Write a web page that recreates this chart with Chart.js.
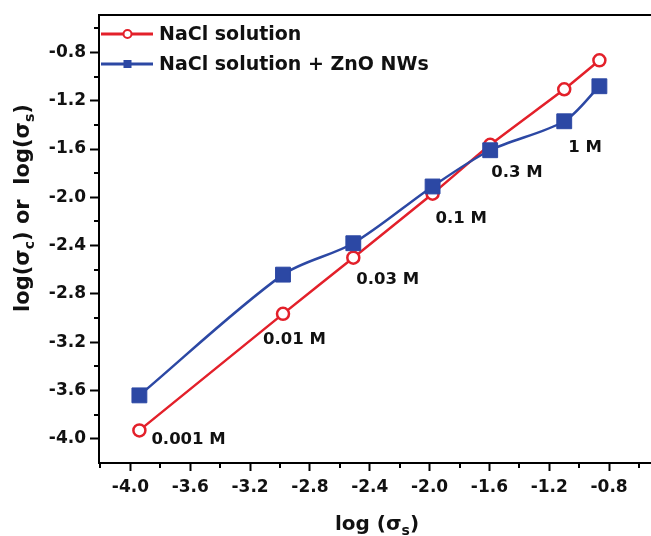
<!DOCTYPE html>
<html><head><meta charset="utf-8">
<script src="https://cdn.jsdelivr.net/npm/chart.js@4"></script>
<style>html,body{margin:0;padding:0;background:#fff;overflow:hidden}#wrap{width:651px;height:536px;position:relative}canvas{display:block}</style>
</head><body><div id="wrap"><canvas id="c" width="651" height="536"></canvas></div>
<script>
// ---- data ----
const logSigmaS   = [-3.94, -2.98, -2.51, -1.98, -1.595, -1.10, -0.865];
const naclOnly    = [-3.93, -2.965, -2.50, -1.97, -1.565, -1.105, -0.865];
const naclZnO     = [-3.64, -2.64, -2.38, -1.91, -1.61, -1.37, -1.08];
const concentrationLabels = ['0.001 M', '0.01 M', '0.03 M', '0.1 M', '0.3 M', '1 M', ''];
const seriesNames = ['NaCl solution', 'NaCl solution + ZnO NWs'];
const xTickValues = [-4.0, -3.6, -3.2, -2.8, -2.4, -2.0, -1.6, -1.2, -0.8];
const yTickValues = [-4.0, -3.6, -3.2, -2.8, -2.4, -2.0, -1.6, -1.2, -0.8];

const RED = '#e3202a', BLUE = '#2c48a4';
const FONT = 'DejaVu Sans';

const toPts = ys => logSigmaS.map((x, i) => ({x, y: ys[i]}));

// label offsets (pixels) relative to the red marker
const labelOffsets = [[12, 9], [-20, 26], [3, 22], [3, 25], [1, 28], [4, 58], [0, 0]];

const decorPlugin = {
  id: 'decor',
  afterDraw(chart) {
    const ctx = chart.ctx, ca = chart.chartArea;
    const xs = chart.scales.x, ys = chart.scales.y;
    ctx.save();
    // top frame line
    ctx.strokeStyle = '#000'; ctx.lineWidth = 2;
    ctx.beginPath(); ctx.moveTo(ca.left - 1, ca.top); ctx.lineTo(ca.right + 2, ca.top); ctx.stroke();
    // minor ticks
    const minorFrom = ticks => {
      const out = [];
      for (let i = 0; i < ticks.length; i++) out.push(ticks[i] - 0.2);
      out.push(ticks[ticks.length - 1] + 0.2);
      return out;
    };
    ctx.lineWidth = 2;
    minorFrom(xTickValues).forEach(v => {
      if (v <= xs.min + 0.005 || v >= xs.max) return;
      const px = Math.round(xs.getPixelForValue(v));
      ctx.beginPath(); ctx.moveTo(px, ca.bottom); ctx.lineTo(px, ca.bottom + 5); ctx.stroke();
    });
    minorFrom(yTickValues).forEach(v => {
      if (v <= ys.min + 0.005 || v >= ys.max) return;
      const py = Math.round(ys.getPixelForValue(v));
      ctx.beginPath(); ctx.moveTo(ca.left, py); ctx.lineTo(ca.left - 5, py); ctx.stroke();
    });

    // concentration labels
    ctx.fillStyle = '#111';
    ctx.font = 'bold 16.5px "' + FONT + '"';
    ctx.textAlign = 'left'; ctx.textBaseline = 'middle';
    concentrationLabels.forEach((t, i) => {
      if (!t) return;
      const px = xs.getPixelForValue(logSigmaS[i]);
      const py = ys.getPixelForValue(naclOnly[i]);
      ctx.fillText(t, px + labelOffsets[i][0], py + labelOffsets[i][1]);
    });

    // legend
    const ds = chart.data.datasets;
    const legendY = [34, 64];
    [0, 1].forEach(k => {
      const d = ds[k], y = legendY[k];
      ctx.strokeStyle = d.borderColor; ctx.lineWidth = 3;
      ctx.beginPath(); ctx.moveTo(101, y); ctx.lineTo(153, y); ctx.stroke();
      if (d.pointStyle === 'circle') {
        ctx.fillStyle = '#fff'; ctx.lineWidth = 2;
        ctx.beginPath(); ctx.arc(127.5, y, 4, 0, Math.PI * 2); ctx.fill(); ctx.stroke();
      } else {
        ctx.fillStyle = d.borderColor;
        ctx.fillRect(123.5, y - 4, 8, 8);
      }
      ctx.fillStyle = '#111';
      ctx.font = 'bold 19px "' + FONT + '"';
      ctx.textBaseline = 'middle';
      ctx.fillText(d.label, 159, y + 1);
    });

    // axis titles with subscripts
    const drawRuns = (runs, startX, baseY) => {
      let x = startX;
      runs.forEach(r => {
        ctx.font = 'bold ' + r.size + 'px "' + FONT + '"';
        ctx.fillText(r.t, x, baseY + (r.dy || 0));
        x += ctx.measureText(r.t).width;
      });
    };
    const runsWidth = runs => runs.reduce((w, r) => {
      ctx.font = 'bold ' + r.size + 'px "' + FONT + '"';
      return w + ctx.measureText(r.t).width;
    }, 0);
    ctx.fillStyle = '#111'; ctx.textBaseline = 'alphabetic'; ctx.textAlign = 'left';
    const xRuns = [{t: 'log (σ', size: 20}, {t: 's', size: 14, dy: 5}, {t: ')', size: 20}];
    drawRuns(xRuns, 377 - runsWidth(xRuns) / 2, 530);

    const yRuns = [{t: 'log(σ', size: 21}, {t: 'c', size: 14, dy: 5}, {t: ') or  log(σ', size: 21},
                   {t: 's', size: 14, dy: 5}, {t: ')', size: 21}];
    ctx.save();
    ctx.translate(29, 208);
    ctx.rotate(-Math.PI / 2);
    drawRuns(yRuns, -runsWidth(yRuns) / 2, 0);
    ctx.restore();

    ctx.restore();
  }
};

const tickFont = {family: FONT, weight: 'bold', size: 17};

new Chart(document.getElementById('c'), {
  type: 'scatter',
  data: {
    datasets: [
      {
        label: seriesNames[0], data: toPts(naclOnly), showLine: true, order: 2,
        borderColor: RED, borderWidth: 2.5, tension: 0.15,
        pointStyle: 'circle', pointRadius: 6, pointBorderWidth: 2.5,
        pointBackgroundColor: '#fff', pointBorderColor: RED
      },
      {
        label: seriesNames[1], data: toPts(naclZnO), showLine: true, order: 1,
        borderColor: BLUE, borderWidth: 2.5, tension: 0.3,
        pointStyle: 'rect', pointRadius: 10.5, pointBorderWidth: 1,
        pointBackgroundColor: BLUE, pointBorderColor: BLUE
      }
    ]
  },
  options: {
    responsive: false, animation: false, devicePixelRatio: 1,
    layout: {autoPadding: false, padding: {top: 15, left: 0, right: 0, bottom: 0}},
    plugins: {legend: {display: false}, tooltip: {enabled: false}},
    scales: {
      x: {
        type: 'linear', min: -4.21, max: -0.52,
        afterBuildTicks: s => { s.ticks = xTickValues.map(v => ({value: v})); },
        afterFit: s => { s.height = 73; s.paddingLeft = 0; s.paddingRight = 0; },
        grid: {display: true, drawOnChartArea: false, drawTicks: true, tickLength: 8, tickWidth: 2, tickColor: '#000'},
        border: {display: true, color: '#000', width: 2},
        ticks: {color: '#111', font: tickFont, padding: 6, maxRotation: 0, callback: v => v.toFixed(1)}
      },
      y: {
        type: 'linear', min: -4.2, max: -0.49,
        afterBuildTicks: s => { s.ticks = yTickValues.map(v => ({value: v})); },
        afterFit: s => { s.width = 99; s.paddingTop = 0; s.paddingBottom = 0; },
        grid: {display: true, drawOnChartArea: false, drawTicks: true, tickLength: 9, tickWidth: 2, tickColor: '#000'},
        border: {display: true, color: '#000', width: 2},
        ticks: {color: '#111', font: tickFont, padding: 4, callback: v => v.toFixed(1)}
      }
    }
  },
  plugins: [decorPlugin]
});
</script>
</body></html>
